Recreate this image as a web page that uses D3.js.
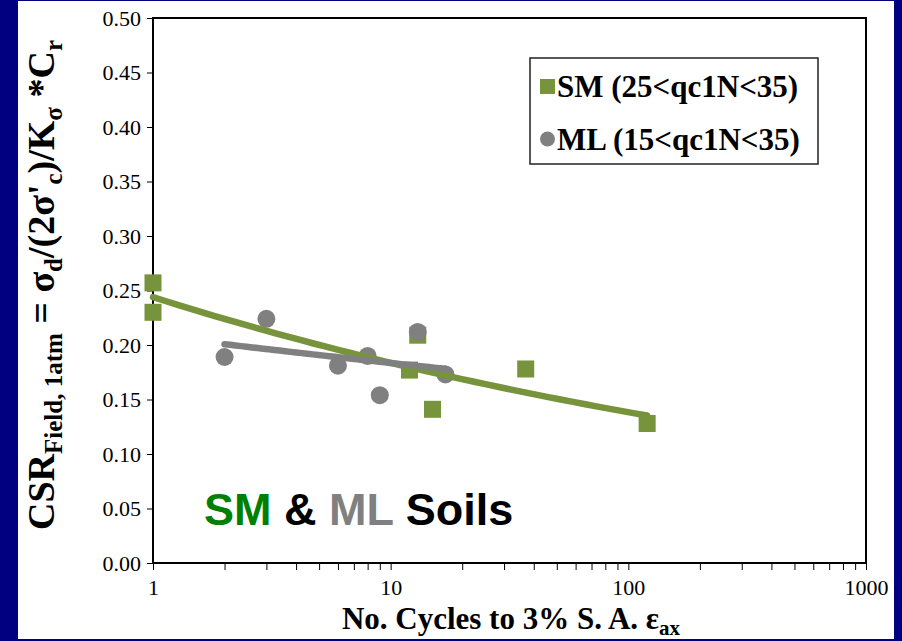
<!DOCTYPE html>
<html>
<head>
<meta charset="utf-8">
<script src="https://cdn.jsdelivr.net/npm/d3@7"></script>
<style>
  html, body { margin: 0; padding: 0; background: #000080; }
  svg { display: block; }
  .serif { font-family: "Liberation Serif", "Times New Roman", Times, serif; }
  .sans { font-family: "Liberation Sans", Arial, Helvetica, sans-serif; }
</style>
</head>
<body>
<div id="app"></div>
<script>
// data
const smCycles = [1, 1, 12, 13, 15, 37, 120];
const smCsr = [0.257, 0.230, 0.177, 0.209, 0.141, 0.178, 0.128];
const mlCycles = [2, 3, 6, 8, 9, 13, 17];
const mlCsr = [0.189, 0.224, 0.181, 0.190, 0.154, 0.212, 0.173];
const xLabels = [1, 10, 100, 1000];
const yTicks = [0, 0.05, 0.10, 0.15, 0.20, 0.25, 0.30, 0.35, 0.40, 0.45, 0.50];
const legendLabels = ["SM (25<qc1N<35)", "ML (15<qc1N<35)"];

const W = 902, H = 641;
const green = "#77933c", gray = "#808080";

const svg = d3.select("#app").append("svg")
  .attr("width", W)
  .attr("height", H);

// white slide area inside the navy frame
svg.append("rect")
  .attr("x", 18).attr("y", 1)
  .attr("width", 876).attr("height", 638)
  .attr("fill", "#fff");

const x = d3.scaleLog().domain([1, 1000]).range([153, 866]);
const y = d3.scaleLinear().domain([0, 0.5]).range([563, 18]);

// power trendline fitted like excel does (least squares in log space)
function powerFit(xs, ys) {
  const lx = xs.map(Math.log), ly = ys.map(Math.log);
  const mx = d3.mean(lx), my = d3.mean(ly);
  const b = d3.sum(lx, (v, i) => (v - mx) * (ly[i] - my)) / d3.sum(lx, v => (v - mx) ** 2);
  const a = Math.exp(my - b * mx);
  return v => a * Math.pow(v, b);
}

// axes
const yAxis = svg.append("g")
  .attr("transform", `translate(${x(1)},0)`)
  .call(d3.axisLeft(y).tickValues(yTicks).tickFormat(d3.format(".2f")).tickSize(6).tickSizeOuter(0).tickPadding(6));
yAxis.attr("font-family", null).attr("font-size", null);
yAxis.select(".domain").remove();
yAxis.selectAll("line").attr("stroke", "#000").attr("stroke-width", 1);
yAxis.selectAll("text")
  .attr("class", "serif")
  .attr("font-size", 22)
  .attr("fill", "#000");

const xAxis = svg.append("g")
  .attr("transform", `translate(0,${y(0)})`)
  .call(d3.axisBottom(x).tickValues(x.ticks()).tickSize(7).tickSizeOuter(0).tickPadding(9)
    .tickFormat(d => xLabels.includes(d) ? d : ""));
xAxis.attr("font-family", null).attr("font-size", null);
xAxis.select(".domain").remove();
xAxis.selectAll("line").attr("stroke", "#000").attr("stroke-width", 1);
xAxis.selectAll("text")
  .attr("class", "serif")
  .attr("font-size", 22)
  .attr("fill", "#000");

// plot border
svg.append("rect")
  .attr("x", x(1)).attr("y", y(0.5))
  .attr("width", x(1000) - x(1)).attr("height", y(0) - y(0.5))
  .attr("fill", "none")
  .attr("stroke", "#000")
  .attr("stroke-width", 2);

// markers
const smData = smCycles.map((c, i) => [c, smCsr[i]]);
const mlData = mlCycles.map((c, i) => [c, mlCsr[i]]);
const sq = 17;

svg.append("g").selectAll("rect")
  .data(smData)
  .join("rect")
  .attr("x", d => x(d[0]) - sq / 2)
  .attr("y", d => y(d[1]) - sq / 2)
  .attr("width", sq).attr("height", sq)
  .attr("fill", green);

svg.append("g").selectAll("circle")
  .data(mlData)
  .join("circle")
  .attr("cx", d => x(d[0]))
  .attr("cy", d => y(d[1]))
  .attr("r", 9)
  .attr("fill", gray);

// trendlines
const line = d3.line().x(d => x(d[0])).y(d => y(d[1]));
function trend(xs, ys, color) {
  const f = powerFit(xs, ys);
  const lo = Math.log10(d3.min(xs)), hi = Math.log10(d3.max(xs));
  const pts = d3.range(0, 41).map(i => {
    const v = Math.pow(10, lo + (hi - lo) * i / 40);
    return [v, f(v)];
  });
  svg.append("path")
    .attr("d", line(pts))
    .attr("fill", "none")
    .attr("stroke", color)
    .attr("stroke-width", 6.5)
    .attr("stroke-linecap", "round");
}
trend(smCycles, smCsr, green);
trend(mlCycles, mlCsr, gray);

// legend
const lg = svg.append("g");
lg.append("rect")
  .attr("x", 530).attr("y", 58)
  .attr("width", 288).attr("height", 106)
  .attr("fill", "#fff")
  .attr("stroke", "#222")
  .attr("stroke-width", 1.5);
lg.append("rect")
  .attr("x", 540).attr("y", 79)
  .attr("width", 15).attr("height", 15)
  .attr("fill", green);
lg.append("circle")
  .attr("cx", 547.5).attr("cy", 139)
  .attr("r", 7.5)
  .attr("fill", gray);
lg.selectAll("text")
  .data(legendLabels)
  .join("text")
  .attr("class", "serif")
  .attr("x", 557)
  .attr("y", (d, i) => 97 + i * 53)
  .attr("font-weight", "bold")
  .attr("font-size", 31)
  .text(d => d);

// big label in the plot
const big = svg.append("text")
  .attr("class", "sans")
  .attr("x", 204).attr("y", 525)
  .attr("font-weight", "bold")
  .attr("font-size", 45);
big.append("tspan").attr("fill", "#008000").text("SM");
big.append("tspan").attr("fill", "#000").text(" & ");
big.append("tspan").attr("fill", gray).text("ML");
big.append("tspan").attr("fill", "#000").text(" Soils");

// x axis title
const xt = svg.append("text")
  .attr("class", "serif")
  .attr("x", 511).attr("y", 629)
  .attr("text-anchor", "middle")
  .attr("font-weight", "bold")
  .attr("font-size", 31);
xt.append("tspan").text("No. Cycles to 3% S. A. ε");
xt.append("tspan").attr("font-size", 21).attr("dy", 6).text("ax");

// y axis title, pieces of [text, isSubscript]
const yParts = [
  ["CSR", false], ["Field, 1atm", true], [" = σ", false], ["d", true],
  ["/(2σ'", false], ["c", true], [")/K", false], ["σ", true],
  [" *C", false], ["r", true]
];
const yt = svg.append("text")
  .attr("class", "serif")
  .attr("transform", "translate(54,285) rotate(-90)")
  .attr("text-anchor", "middle")
  .attr("font-weight", "bold")
  .attr("font-size", 38);
let down = false;
yParts.forEach(([t, sub]) => {
  const ts = yt.append("tspan").text(t);
  if (sub) ts.attr("font-size", 25);
  if (sub && !down) { ts.attr("dy", 8); down = true; }
  else if (!sub && down) { ts.attr("dy", -8); down = false; }
});
</script>
</body>
</html>
